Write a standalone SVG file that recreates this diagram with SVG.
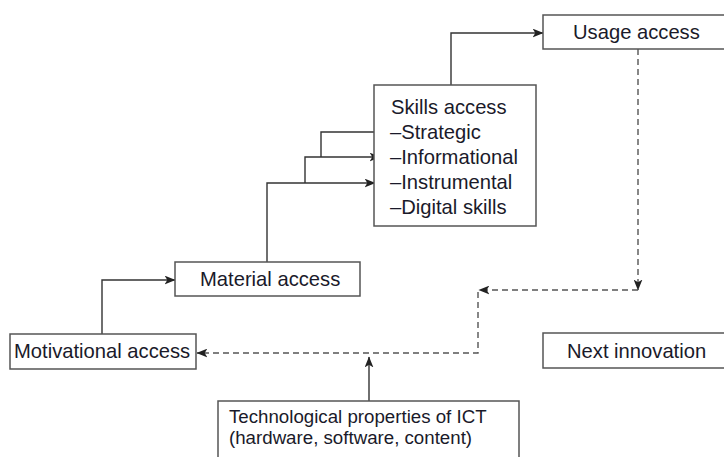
<svg xmlns="http://www.w3.org/2000/svg" width="724" height="457" viewBox="0 0 724 457">
  <style>
    .box { fill: #ffffff; stroke: #555555; stroke-width: 1.5; }
    .lbl { font-family: "Liberation Sans", Arial, sans-serif; font-size: 20.2px; fill: #1a1a2a; }
    .sm { font-size: 18.7px; }
    .link { fill: none; stroke: #333333; stroke-width: 1.4; }
    .dash { fill: none; stroke: #555555; stroke-width: 1.4; stroke-dasharray: 6 4; }
  </style>
  <defs>
    <marker id="head" viewBox="0 0 10 8" refX="9.5" refY="4" markerWidth="11" markerHeight="9" markerUnits="userSpaceOnUse" orient="auto">
      <path d="M0,0 L10,4 L0,8 L2.5,4 z" fill="#222222"/>
    </marker>
  </defs>

  <rect width="724" height="457" fill="#ffffff"/>

  <g id="connectors">
    <path class="link" d="M102,334 V280 H175" marker-end="url(#head)"/>
    <path class="link" d="M267,262 V183 H375" marker-end="url(#head)"/>
    <path class="link" d="M305,183 V157 H380" marker-end="url(#head)"/>
    <path class="link" d="M321,157 V132 H388" marker-end="url(#head)"/>
    <path class="link" d="M451,85 V33 H543" marker-end="url(#head)"/>
    <path class="dash" d="M638,49 V290" marker-end="url(#head)"/>
    <path class="dash" d="M638,290 H479" marker-end="url(#head)"/>
    <path class="dash" d="M478,292 V353 H197" marker-end="url(#head)"/>
    <path class="link" d="M369,401 V357" marker-end="url(#head)"/>
  </g>

  <g id="motivational">
    <rect class="box" x="10" y="334" width="186" height="35"/>
    <text class="lbl" x="14" y="358">Motivational access</text>
  </g>

  <g id="material">
    <rect class="box" x="175" y="262" width="185" height="34"/>
    <text class="lbl" x="200" y="286">Material access</text>
  </g>

  <g id="skills">
    <rect class="box" x="374" y="85" width="162" height="141"/>
    <text class="lbl" x="391" y="114">Skills access</text>
    <text class="lbl" x="390" y="139">–Strategic</text>
    <text class="lbl" x="390" y="164">–Informational</text>
    <text class="lbl" x="390" y="189">–Instrumental</text>
    <text class="lbl" x="390" y="214">–Digital skills</text>
  </g>

  <g id="usage">
    <rect class="box" x="543" y="15" width="190" height="34"/>
    <text class="lbl" x="573" y="39">Usage access</text>
  </g>

  <g id="next-innovation">
    <rect class="box" x="543" y="333" width="190" height="35"/>
    <text class="lbl" x="567" y="358">Next innovation</text>
  </g>

  <g id="technological">
    <rect class="box" x="218" y="401" width="301" height="70"/>
    <text class="lbl sm" x="229" y="423">Technological properties of ICT</text>
    <text class="lbl sm" x="229" y="444">(hardware, software, content)</text>
  </g>
</svg>
